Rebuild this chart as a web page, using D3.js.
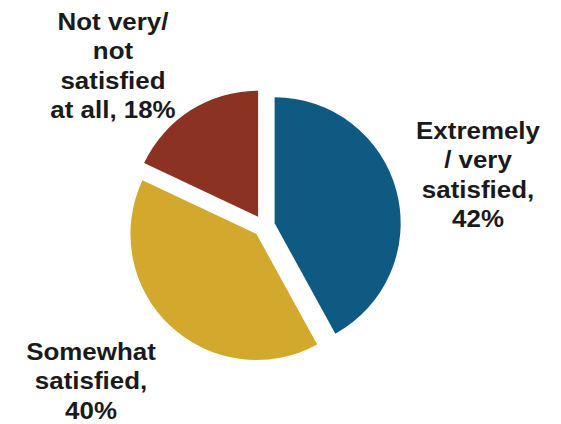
<!DOCTYPE html>
<html>
<head>
<meta charset="utf-8">
<script src="https://cdn.jsdelivr.net/npm/d3@7"></script>
<style>
  html, body { margin: 0; padding: 0; background: #ffffff; }
  svg { display: block; }
  text { font-family: "Liberation Sans", Arial, sans-serif; font-weight: bold; fill: #1a1a1a; }
</style>
</head>
<body>
<svg id="chart" width="561" height="424"></svg>
<script>
const categories = ["Extremely / very satisfied", "Somewhat satisfied", "Not very/ not satisfied at all"];
const values = [42, 40, 18];
const colors = ["#0f5a82", "#d2a92c", "#8b3222"];
const labelLines = [
  ["Extremely", "/ very", "satisfied,", "42%"],
  ["Somewhat", "satisfied,", "40%"],
  ["Not very/", "not", "satisfied", "at all, 18%"]
];

const W = 561, H = 424;
const cx = 264, cy = 226, R = 126, explode = 11;
const svg = d3.select("#chart");

const pie = d3.pie().sort(null).value(d => d)(values);
const arc = d3.arc().innerRadius(0).outerRadius(R);

const g = svg.append("g").attr("transform", `translate(${cx},${cy})`);
g.selectAll("path").data(pie).join("path")
  .attr("d", arc)
  .attr("fill", (d, i) => colors[i])
  .attr("transform", d => {
    const a = (d.startAngle + d.endAngle) / 2;
    return `translate(${explode * Math.sin(a)},${-explode * Math.cos(a)})`;
  });

// label anchors (center x, first baseline)
const labelPos = [[478, 139], [91, 360], [113, 30]];
const lh = 29.3;
labelLines.forEach((lines, i) => {
  const t = svg.append("text")
    .attr("text-anchor", "middle")
    .attr("font-size", 24)
    .attr("transform", `translate(${labelPos[i][0]},${labelPos[i][1]}) scale(1.08,1)`);
  lines.forEach((ln, j) => {
    t.append("tspan").attr("x", 0).attr("y", j * lh).text(ln);
  });
});
</script>
</body>
</html>
